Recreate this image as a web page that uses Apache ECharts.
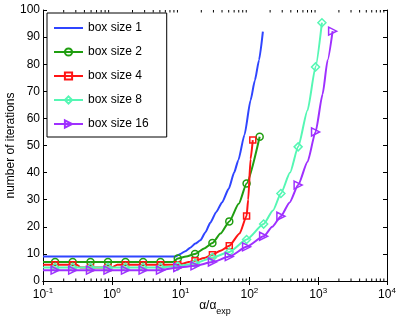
<!DOCTYPE html>
<html>
<head>
<meta charset="utf-8">
<script src="https://cdn.jsdelivr.net/npm/echarts@6/dist/echarts.min.js"></script>
<style>html,body{margin:0;padding:0;background:#fff;}#c{width:399px;height:318px;}</style>
</head>
<body>
<div id="c"></div>
<script>
// ---- data ----
const seriesNames = ['box size 1', 'box size 2', 'box size 4', 'box size 8', 'box size 16'];
const markerX = [0.15, 0.27, 0.49, 0.88, 1.58, 2.85, 5.1, 9.1, 16.2, 29, 51, 91, 161, 287, 511, 915];

const box1X = [0.1, 8.4, 9.9, 11.7, 13.8, 16.4, 19.4, 23, 27, 33, 40, 50, 60, 69, 85, 104, 120, 138, 157];
const box1Y = [9, 9, 10, 11, 12.3, 13.8, 15, 18, 21.5, 25.5, 29, 34, 40, 44.6, 54, 66.7, 74, 81.5, 92];

const box2X = [0.1, 0.15, 0.27, 0.49, 0.88, 1.58, 2.85, 5.1, 7.8, 9.1, 12, 16.2, 22, 29, 38, 51, 70, 91, 141];
const box2Y = [7, 7, 7, 7, 7, 7, 7, 7, 7, 8.3, 9, 10, 12, 14, 17.5, 22, 28.5, 36, 53.2];

const box4X = [0.1, 0.15, 0.27, 0.31, 0.35, 0.49, 0.88, 1.0, 1.2, 1.58, 2.85, 5.1, 9.1, 11, 13, 16.2, 22, 29, 38, 51, 72, 91, 96, 104, 112];
const box4Y = [6, 6, 6, 6, 5, 5, 5, 5, 6, 6, 6, 6, 6, 6.5, 7, 7.5, 8.5, 9.7, 11.2, 13, 17.5, 24, 30, 45, 52];

const box8X = [0.1, 0.15, 0.27, 0.49, 0.88, 1.58, 2.85, 5.1, 9.1, 16.2, 29, 51, 91, 161, 220, 287, 390, 511, 700, 915, 1133];
const box8Y = [5, 5, 5, 5, 5, 5, 5, 5, 5.5, 6.5, 8.7, 10.7, 15.3, 21, 26, 32.3, 40, 49.5, 63, 79, 95.3];

const box16X = [0.1, 0.15, 0.27, 0.49, 0.88, 1.58, 2.85, 5.1, 9.1, 16.2, 29, 51, 91, 161, 215, 287, 385, 511, 700, 915, 1160, 1370, 1620];
const box16Y = [4, 4, 4, 4, 4, 4, 4, 4, 5, 5.6, 7, 9, 12.6, 16.5, 20, 23.9, 29, 35.4, 44, 55, 69, 81.5, 92.2];

const xTickValues = [0.1, 1, 10, 100, 1000, 10000];
const yTickValues = [0, 10, 20, 30, 40, 50, 60, 70, 80, 90, 100];

// ---- styling ----
const FONT = 'Liberation Sans, Arial, Helvetica, sans-serif';
const colors = ['#2f45ff', '#1f9e10', '#ff1414', '#55f7b4', '#9f30ff'];
const symbols = ['circle', 'circle', 'rect', 'diamond', 'path://M0,0 L10,5 L0,10 Z'];
const symbolSizes = [0, 7, 6, 8, 8];

function build(xs, ys, hasMarkers) {
  return xs.map((x, i) => {
    const marked = hasMarkers && (markerX.indexOf(x) >= 0 || i === xs.length - 1);
    return marked ? { value: [x, ys[i]] } : { value: [x, ys[i]], symbol: 'none' };
  });
}

const allX = [box1X, box2X, box4X, box8X, box16X];
const allY = [box1Y, box2Y, box4Y, box8Y, box16Y];

const minorTicks = [];
for (let d = -1; d <= 3; d++) {
  for (let k = 2; k <= 9; k++) minorTicks.push([k * Math.pow(10, d), 0]);
}

const lineSeries = seriesNames.map((name, i) => ({
  name: name,
  type: 'line',
  xAxisIndex: 0,
  yAxisIndex: 0,
  data: build(allX[i], allY[i], i > 0),
  symbol: symbols[i],
  symbolSize: symbolSizes[i],
  showSymbol: i > 0,
  smooth: 0.2,
  smoothMonotone: 'x',
  lineStyle: { color: colors[i], width: 2 },
  itemStyle: i === 0
    ? { color: 'rgba(255,255,255,0)', borderColor: 'rgba(255,255,255,0)', borderWidth: 0 }
    : { color: 'rgba(255,255,255,0)', borderColor: colors[i], borderWidth: 1.5 },
  emphasis: { disabled: true },
  z: 3 + i
}));

const chart = echarts.init(document.getElementById('c'), null, { renderer: 'canvas' });
chart.setOption({
  animation: false,
  backgroundColor: '#fff',
  textStyle: { fontFamily: FONT },
  grid: { left: 43, right: 12, top: 10, bottom: 37, containLabel: false, outerBoundsMode: 'none' },
  legend: {
    data: seriesNames,
    orient: 'vertical',
    left: 47, top: 13,
    padding: [9, 18, 7, 6],
    itemGap: 12,
    itemWidth: 29,
    itemHeight: 9,
    backgroundColor: '#fff',
    borderColor: '#000',
    borderWidth: 1,
    borderRadius: 0,
    selectedMode: false,
    textStyle: { fontSize: 12, color: '#000', fontFamily: FONT }
  },
  xAxis: [
    {
      type: 'log', logBase: 10, min: xTickValues[0], max: xTickValues[xTickValues.length - 1],
      position: 'bottom',
      axisLine: { show: true, lineStyle: { color: '#000', width: 1 } },
      axisTick: { show: true, inside: true, length: 4, lineStyle: { color: '#000' } },
      splitLine: { show: false },
      axisLabel: {
        margin: 6,
        formatter: function (v) {
          const e = Math.round(Math.log10(v));
          return '{b|10}{s|' + e + '}';
        },
        rich: {
          b: { fontSize: 12, lineHeight: 14, color: '#000', fontFamily: FONT, verticalAlign: 'bottom' },
          s: { fontSize: 8, lineHeight: 8, padding: [0, 0, 6, 0], color: '#000', fontFamily: FONT, verticalAlign: 'bottom' }
        }
      },
      name: '{a|α/α}{e|exp}',
      nameLocation: 'middle',
      nameGap: 19,
      nameMoveOverlap: false,
      nameTextStyle: {
        rich: {
          a: { fontSize: 12, lineHeight: 14, color: '#000', fontFamily: FONT, verticalAlign: 'top' },
          e: { fontSize: 9, lineHeight: 10, padding: [7, 0, 0, 0], color: '#000', fontFamily: FONT, verticalAlign: 'top' }
        }
      }
    },
    {
      type: 'log', logBase: 10, min: xTickValues[0], max: xTickValues[xTickValues.length - 1],
      position: 'top',
      axisLine: { show: true, lineStyle: { color: '#000', width: 1 } },
      axisTick: { show: true, inside: true, length: 4, lineStyle: { color: '#000' } },
      splitLine: { show: false },
      axisLabel: { show: false }
    }
  ],
  yAxis: [
    {
      type: 'value', min: yTickValues[0], max: yTickValues[yTickValues.length - 1], interval: 10,
      position: 'left',
      axisLine: { show: true, lineStyle: { color: '#000', width: 1 } },
      axisTick: { show: true, inside: true, length: 4, lineStyle: { color: '#000' } },
      splitLine: { show: false },
      axisLabel: { fontSize: 12, color: '#000', margin: 3, fontFamily: FONT },
      name: 'number of iterations',
      nameLocation: 'middle',
      nameGap: 26,
      nameMoveOverlap: false,
      nameTextStyle: { fontSize: 12, color: '#000', fontFamily: FONT }
    },
    {
      type: 'value', min: yTickValues[0], max: yTickValues[yTickValues.length - 1], interval: 10,
      position: 'right',
      axisLine: { show: true, lineStyle: { color: '#000', width: 1 } },
      axisTick: { show: true, inside: true, length: 4, lineStyle: { color: '#000' } },
      splitLine: { show: false },
      axisLabel: { show: false }
    }
  ],
  series: lineSeries.concat([{
    type: 'custom',
    name: 'minorTicks',
    xAxisIndex: 0, yAxisIndex: 0,
    silent: true,
    clip: false,
    z: 10,
    data: minorTicks,
    renderItem: function (params, api) {
      const v = api.value(0);
      const b = api.coord([v, yTickValues[0]]);
      const t = api.coord([v, yTickValues[yTickValues.length - 1]]);
      return {
        type: 'group',
        children: [
          { type: 'line', shape: { x1: b[0], y1: b[1], x2: b[0], y2: b[1] - 2.5 }, style: { stroke: '#000', lineWidth: 1 } },
          { type: 'line', shape: { x1: t[0], y1: t[1], x2: t[0], y2: t[1] + 2.5 }, style: { stroke: '#000', lineWidth: 1 } }
        ]
      };
    }
  }])
});
</script>
</body>
</html>
